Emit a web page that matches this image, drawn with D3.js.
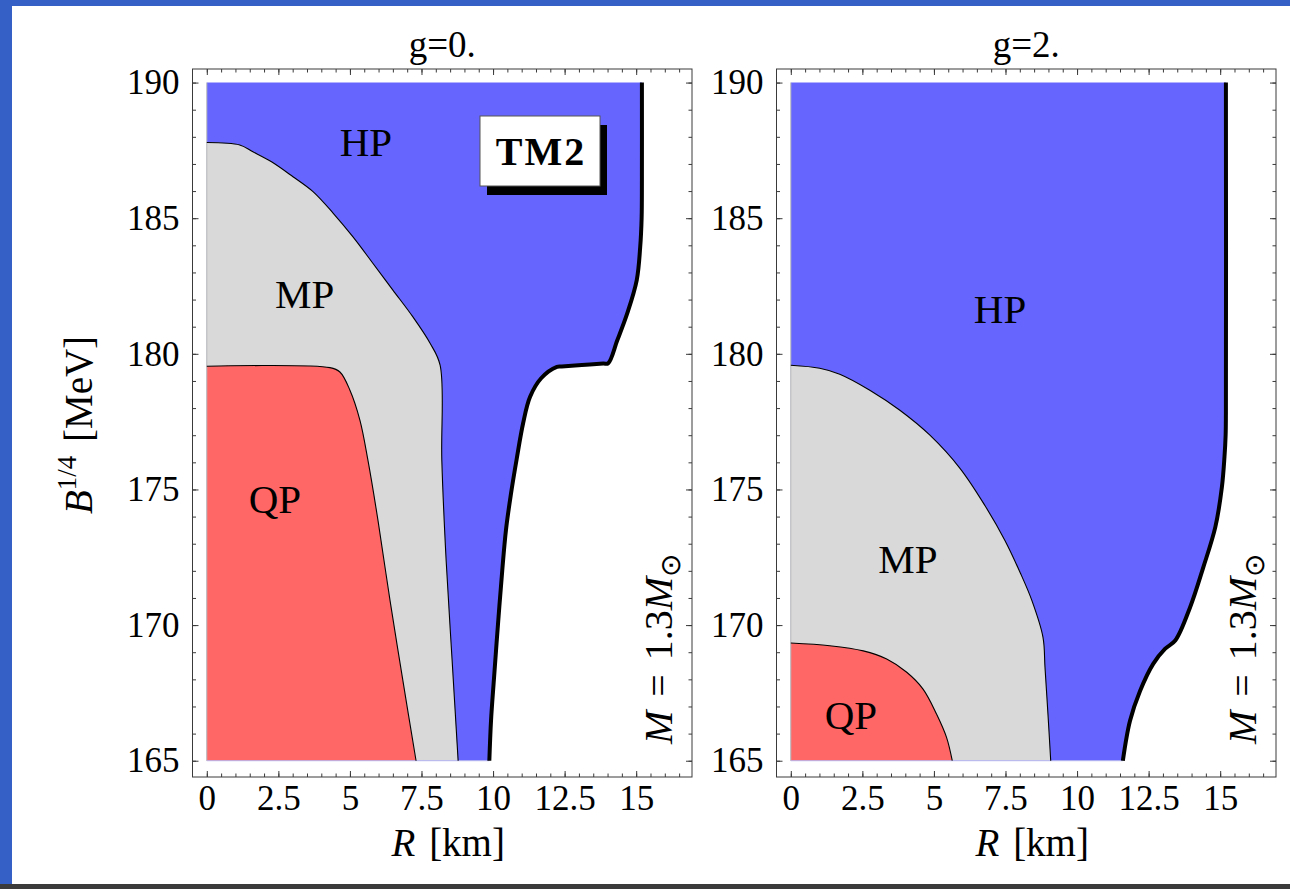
<!DOCTYPE html>
<html>
<head>
<meta charset="utf-8">
<script src="https://cdn.jsdelivr.net/npm/d3@7"></script>
<style>
  body { margin: 0; background: #fff; }
  svg { display: block; }
</style>
</head>
<body>
<script>
// panel titles and axis ticks
const panelTitles = ["g=0.", "g=2."];
const xTickValues = [0, 2.5, 5, 7.5, 10, 12.5, 15];
const xTickLabels = ["0", "2.5", "5", "7.5", "10", "12.5", "15"];
const yTickValues = [165, 170, 175, 180, 185, 190];
const yTickLabels = ["165", "170", "175", "180", "185", "190"];

// boundaries [R km, B^1/4 MeV], top to bottom
// g=0.
const edgeG0 = [[15.20, 190], [15.20, 186.5], [15.19, 185.0], [15.14, 183.93], [15.02, 182.72],
  [14.69, 181.5], [14.34, 180.5], [14.02, 179.65], [13.85, 179.64], [13.1, 179.585],
  [12.4, 179.535], [12.23, 179.52], [11.68, 179.1], [11.29, 178.41], [11.05, 177.44],
  [10.83, 176.15], [10.62, 174.8], [10.45, 173.5], [10.32, 172.0], [10.17, 170.0],
  [10.03, 168.0], [9.93, 166.5], [9.87, 165]];
const mpG0 = [[0, 187.79], [1.15, 187.7], [1.61, 187.45], [2.26, 187.08], [3.01, 186.53],
  [3.71, 185.98], [4.41, 185.19], [5.10, 184.32], [5.80, 183.34], [6.50, 182.35],
  [7.20, 181.36], [7.80, 180.39], [8.15, 179.58], [8.21, 176.07], [8.36, 172.4],
  [8.57, 168.7], [8.78, 165]];
const qpG0 = [[0, 179.54], [4.30, 179.49], [4.65, 179.33], [5.00, 178.66], [5.35, 177.55],
  [5.63, 176.07], [5.98, 173.86], [6.40, 170.91], [6.85, 167.95], [7.31, 165]];
// g=2.
const edgeG2 = [[15.20, 190], [15.20, 177.8], [15.19, 177.0], [15.15, 176.2], [15.06, 175.09],
  [14.83, 173.61], [14.41, 172.13], [13.95, 170.66], [13.43, 169.43], [13.08, 169.13],
  [12.66, 168.57], [12.20, 167.57], [11.85, 166.47], [11.60, 165]];
const mpG2 = [[0, 179.58], [1.01, 179.47], [1.71, 179.25], [2.76, 178.66], [3.81, 177.92],
  [4.86, 177.0], [5.91, 175.78], [6.78, 174.41], [7.48, 173.12], [8.01, 171.94],
  [8.42, 170.91], [8.81, 169.55], [8.88, 168.44], [8.99, 166.6], [9.08, 165]];
const qpG2 = [[0, 169.34], [1.36, 169.24], [2.53, 169.05], [3.35, 168.75], [4.05, 168.26],
  [4.62, 167.64], [5.09, 166.72], [5.44, 165.86], [5.64, 165]];

// phase labels [text, R, B]
const labelsG0 = [["HP", 5.56, 187.81], ["MP", 3.42, 182.2], ["QP", 2.38, 174.67]];
const labelsG2 = [["HP", 7.31, 181.68], ["MP", 4.09, 172.45], ["QP", 2.1, 166.69]];

const panels = [
  { title: panelTitles[0], edge: edgeG0, mp: mpG0, qp: qpG0, labels: labelsG0, left: 192.5, tm2: true },
  { title: panelTitles[1], edge: edgeG2, mp: mpG2, qp: qpG2, labels: labelsG2, left: 776.5, tm2: false }
];

const W = 499.5, H = 708, TOP = 69;
const FONT = "'Liberation Serif', 'Times New Roman', serif";
const COL_HP = "#6666ff", COL_MP = "#d9d9d9", COL_QP = "#ff6666";

const svg = d3.select("body").append("svg")
  .attr("width", 1290)
  .attr("height", 889);

// page chrome
svg.append("rect").attr("width", 1290).attr("height", 889).attr("fill", "#fff");
svg.append("rect").attr("width", 1290).attr("height", 6).attr("fill", "#3560c5");
svg.append("rect").attr("width", 12).attr("height", 889).attr("fill", "#3560c5");
svg.append("rect").attr("y", 884).attr("width", 1290).attr("height", 5).attr("fill", "#3b3b3b");

const x = d3.scaleLinear().domain([-0.5, 16.95]).range([0, W]);
const y = d3.scaleLinear().domain([164.4, 190.5]).range([H, 0]);

const curve = d3.curveCatmullRom.alpha(0.5);
const area = d3.area()
  .y(d => y(d[1]))
  .x0(x(0))
  .x1(d => x(d[0]))
  .curve(curve);
const line = d3.line()
  .x(d => x(d[0]))
  .y(d => y(d[1]))
  .curve(curve);

const xMinor = d3.range(0, 17, 0.5);
const yMinor = d3.range(165, 191, 1);

function styleAxis(g) {
  g.select(".domain").remove();
  g.attr("color", "#3a3a3a")
    .attr("font-family", FONT)
    .attr("font-size", 35);
  g.selectAll("text").attr("fill", "#000");
}

panels.forEach(p => {
  const g = svg.append("g").attr("transform", `translate(${p.left},${TOP})`);

  // regions
  g.append("path").attr("d", area(p.edge)).attr("fill", COL_HP);
  g.append("path").attr("d", area(p.mp)).attr("fill", COL_MP);
  g.append("path").attr("d", area(p.qp)).attr("fill", COL_QP);

  // faint edges of the filled region
  g.append("line")
    .attr("x1", x(0)).attr("x2", x(0))
    .attr("y1", y(190)).attr("y2", y(165))
    .attr("stroke", "#b8b8b8").attr("stroke-width", 1);
  g.append("line")
    .attr("x1", x(0)).attr("x2", x(p.edge[p.edge.length - 1][0]))
    .attr("y1", y(165)).attr("y2", y(165))
    .attr("stroke", "#b9b9f0").attr("stroke-width", 1);

  // phase boundaries
  [p.mp, p.qp].forEach(b => {
    g.append("path").attr("d", line(b))
      .attr("fill", "none").attr("stroke", "#000").attr("stroke-width", 1.1);
  });
  g.append("path").attr("d", line(p.edge))
    .attr("fill", "none").attr("stroke", "#000").attr("stroke-width", 4);

  // phase labels
  g.selectAll("text.phase")
    .data(p.labels)
    .join("text")
    .attr("class", "phase")
    .attr("x", d => x(d[1]))
    .attr("y", d => y(d[2]))
    .attr("dy", "0.35em")
    .attr("text-anchor", "middle")
    .attr("font-family", FONT)
    .attr("font-size", 41)
    .text(d => d[0]);

  // axes with inward ticks
  g.append("g").attr("transform", `translate(0,${H})`)
    .call(d3.axisBottom(x).tickValues(xTickValues).tickSizeInner(-6).tickSizeOuter(0)
      .tickPadding(8).tickFormat((d, i) => xTickLabels[i]))
    .call(styleAxis);
  g.append("g").attr("transform", `translate(0,${H})`)
    .call(d3.axisBottom(x).tickValues(xMinor).tickSizeInner(-3.5).tickSizeOuter(0).tickFormat(""))
    .call(styleAxis);
  g.append("g")
    .call(d3.axisTop(x).tickValues(xTickValues).tickSizeInner(-6).tickSizeOuter(0).tickFormat(""))
    .call(styleAxis);
  g.append("g")
    .call(d3.axisTop(x).tickValues(xMinor).tickSizeInner(-3.5).tickSizeOuter(0).tickFormat(""))
    .call(styleAxis);
  g.append("g")
    .call(d3.axisLeft(y).tickValues(yTickValues).tickSizeInner(-6).tickSizeOuter(0)
      .tickPadding(13).tickFormat((d, i) => yTickLabels[i]))
    .call(styleAxis);
  g.append("g")
    .call(d3.axisLeft(y).tickValues(yMinor).tickSizeInner(-3.5).tickSizeOuter(0).tickFormat(""))
    .call(styleAxis);
  g.append("g").attr("transform", `translate(${W},0)`)
    .call(d3.axisRight(y).tickValues(yTickValues).tickSizeInner(-6).tickSizeOuter(0).tickFormat(""))
    .call(styleAxis);
  g.append("g").attr("transform", `translate(${W},0)`)
    .call(d3.axisRight(y).tickValues(yMinor).tickSizeInner(-3.5).tickSizeOuter(0).tickFormat(""))
    .call(styleAxis);

  // frame
  g.append("rect")
    .attr("width", W).attr("height", H)
    .attr("fill", "none").attr("stroke", "#3a3a3a").attr("stroke-width", 1);

  // title
  g.append("text")
    .attr("x", W / 2).attr("y", -12)
    .attr("text-anchor", "middle")
    .attr("font-family", FONT).attr("font-size", 37)
    .text(p.title);

  // x axis title: R [km]
  const xt = g.append("text")
    .attr("x", W / 2 + 6).attr("y", 787)
    .attr("text-anchor", "middle")
    .attr("font-family", FONT).attr("font-size", 39);
  xt.append("tspan").attr("font-style", "italic").text("R");
  xt.append("tspan").attr("dx", 4).text(" [km]");

  // mass label
  const ml = g.append("text")
    .attr("transform", `translate(479,580) rotate(-90)`)
    .attr("text-anchor", "middle")
    .attr("font-family", FONT).attr("font-size", 40);
  ml.append("tspan").attr("font-style", "italic").text("M");
  ml.append("tspan").attr("dx", 4).text(" = ");
  ml.append("tspan").attr("dx", 4).text("1.3");
  ml.append("tspan").attr("font-style", "italic").text("M");
  ml.append("tspan").attr("font-size", 28).attr("dy", 8).text("\u2299");

  if (p.tm2) {
    const bx = 287.5, by = 47;
    g.append("rect").attr("x", bx + 7).attr("y", by + 9)
      .attr("width", 120).attr("height", 70).attr("fill", "#000");
    g.append("rect").attr("x", bx).attr("y", by)
      .attr("width", 120).attr("height", 70)
      .attr("fill", "#fff").attr("stroke", "#555").attr("stroke-width", 1);
    g.append("text")
      .attr("x", bx + 61).attr("y", by + 35).attr("dy", "0.35em")
      .attr("text-anchor", "middle")
      .attr("font-family", FONT).attr("font-weight", "bold").attr("font-size", 40)
      .attr("letter-spacing", 2)
      .text("TM2");
  }
});

// y axis title: B^{1/4} [MeV]
const yt = svg.append("text")
  .attr("transform", "translate(92,425) rotate(-90)")
  .attr("text-anchor", "middle")
  .attr("font-family", FONT).attr("font-size", 39);
yt.append("tspan").attr("font-style", "italic").text("B");
yt.append("tspan").attr("font-size", 27).attr("dy", -16).text("1/4");
yt.append("tspan").attr("dy", 16).attr("dx", 4).text(" [MeV]");
</script>
</body>
</html>
